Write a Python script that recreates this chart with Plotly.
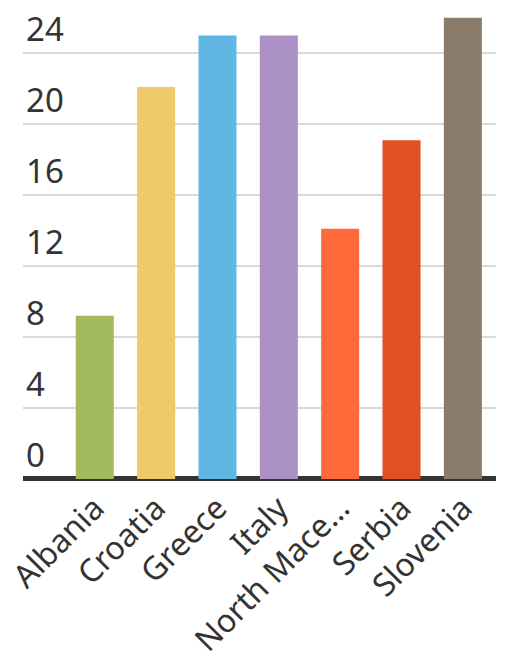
import plotly.graph_objects as go

categories = ["Albania", "Croatia", "Greece", "Italy", "North Mace…", "Serbia", "Slovenia"]
values = [9.2, 22.1, 25.0, 25.0, 14.1, 19.1, 26.0]
colors = ["#a3bb5e", "#efca6b", "#61b7e4", "#ab91c5", "#fe6a3a", "#e34f25", "#8a7c6b"]
y_ticks = [0, 4, 8, 12, 16, 20, 24]

fig = go.Figure(go.Bar(
    x=list(range(len(categories))),
    y=values,
    marker=dict(color=colors, line=dict(width=0)),
    width=0.62,
))

fig.update_layout(
    width=505, height=657,
    margin=dict(l=23, r=9, t=0, b=166, autoexpand=False),
    paper_bgcolor="white", plot_bgcolor="white",
    font=dict(family="Noto Sans", size=33, color="#333333"),
    showlegend=False,
)
fig.update_xaxes(
    range=[-1.17, 6.54],
    tickmode="array",
    tickvals=list(range(len(categories))),
    ticktext=categories,
    tickangle=-45,
    automargin=False,
    ticklabeloverflow="allow",
    ticklabelstandoff=-9,
    showgrid=False, zeroline=False, showline=False, ticks="",
    tickfont=dict(size=32, color="#333333"),
)
fig.update_yaxes(
    range=[-0.68, 27.0],
    automargin=False,
    tickmode="array",
    tickvals=y_ticks,
    ticktext=[str(v) for v in y_ticks],
    ticklabelposition="inside",
    ticklabeloverflow="allow",
    ticklabelshift=-24,
    ticklabelstandoff=0,
    showgrid=True, gridcolor="#d9d9d9", gridwidth=2,
    zeroline=True, zerolinecolor="#333333", zerolinewidth=5,
    showline=False, ticks="",
    tickfont=dict(size=33, color="#333333"),
)

fig.write_html("out.html", config={"displayModeBar": False},
               post_script="document.body.style.margin='0';")
